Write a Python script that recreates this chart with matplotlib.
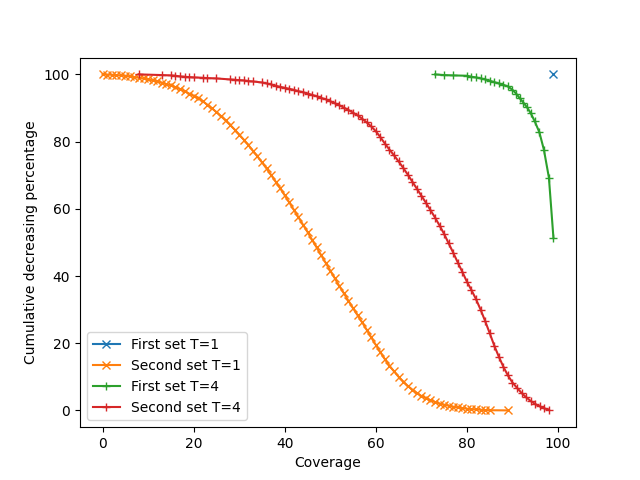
import matplotlib
matplotlib.use("Agg")
import matplotlib.pyplot as plt

first_t1_x = [99]
first_t1_y = [100]

second_t1_x = list(range(0, 86)) + [89]
second_t1_y = [
    100.0, 99.95, 99.9, 99.8, 99.7, 99.6, 99.4, 99.2, 99.0, 98.8,
    98.5, 98.2, 97.9, 97.5, 97.1, 96.7, 96.2, 95.6, 95.0, 94.3,
    93.6, 93.1, 92.0, 91.0, 89.9, 88.8, 87.6, 86.3, 85.0, 83.6,
    82.1, 80.6, 79.0, 77.3, 75.6, 73.8, 72.0, 70.1, 68.1, 66.1,
    64.0, 61.9, 59.7, 57.5, 55.3, 53.1, 50.8, 48.5, 46.2, 43.9,
    41.6, 39.3, 37.0, 34.8, 32.6, 30.4, 28.3, 26.2, 24.0, 21.7,
    19.5, 17.3, 15.2, 13.3, 11.6, 10.0, 8.6, 7.3, 6.2, 5.2,
    4.3, 3.6, 3.0, 2.5, 2.0, 1.7, 1.4, 1.1, 0.9, 0.7,
    0.5, 0.4, 0.3, 0.2, 0.1, 0.05, 0.0,
]

first_t4_x = [73, 75, 77, 80, 81, 82, 83, 84, 85, 86, 87, 88, 89, 90,
              90.8, 91.6, 92.4, 93.2, 94, 94.9, 95.9, 96.9, 98, 99]
first_t4_y = [100, 99.8, 99.7, 99.6, 99.3, 99.1, 98.8, 98.5, 98.1, 97.7,
              97.3, 96.9, 96.4, 95.4, 94.3, 92.9, 91.6, 90.2, 88.5, 86.0,
              82.8, 77.6, 69.3, 51.3]

second_t4_x = [8, 13, 15, 16, 17, 18, 19, 20, 22, 23, 25, 28, 29, 30, 31, 32,
               33, 35, 36, 37, 38, 39, 40, 41, 42, 43, 44, 45, 46, 47, 48, 49,
               50, 51, 52, 53, 54, 55, 56, 57, 58, 59, 60, 61, 62, 63, 64, 65,
               66, 67, 68, 69, 70, 71, 72, 73, 74, 75, 76, 77, 78, 79, 80, 81,
               82, 83, 84, 85, 86, 87, 88, 89, 90, 91, 92, 93, 94, 95, 96, 97, 98]
second_t4_y = [100, 99.8, 99.7, 99.6, 99.4, 99.3, 99.2, 99.1, 99.0, 98.9,
               98.8, 98.5, 98.4, 98.3, 98.2, 98.0, 97.9, 97.6, 97.3, 97.0,
               96.6, 96.3, 96.0, 95.7, 95.4, 95.0, 94.7, 94.3, 93.9, 93.5,
               93.0, 92.6, 92.0, 91.4, 90.8, 90.1, 89.4, 88.6, 87.8, 86.8,
               85.7, 84.5, 83.1, 81.3, 79.4, 77.6, 75.9, 74.1, 72.2, 70.2,
               68.1, 66.0, 63.9, 61.8, 59.6, 57.4, 55.0, 52.5, 49.7, 46.9,
               44.0, 41.2, 38.3, 35.8, 33.1, 30.0, 26.6, 23.0, 19.3, 16.0,
               13.0, 10.4, 8.3, 6.7, 5.2, 3.9, 2.8, 1.9, 1.2, 0.6, 0.2]

fig, ax = plt.subplots(figsize=(6.4, 4.8), dpi=100)
ax.plot(first_t1_x, first_t1_y, marker='x', label='First set T=1')
ax.plot(second_t1_x, second_t1_y, marker='x', label='Second set T=1')
ax.plot(first_t4_x, first_t4_y, marker='+', label='First set T=4')
ax.plot(second_t4_x, second_t4_y, marker='+', label='Second set T=4')
ax.set_xlabel('Coverage')
ax.set_ylabel('Cumulative decreasing percentage')
ax.legend(loc='lower left')
fig.savefig('out.png')
